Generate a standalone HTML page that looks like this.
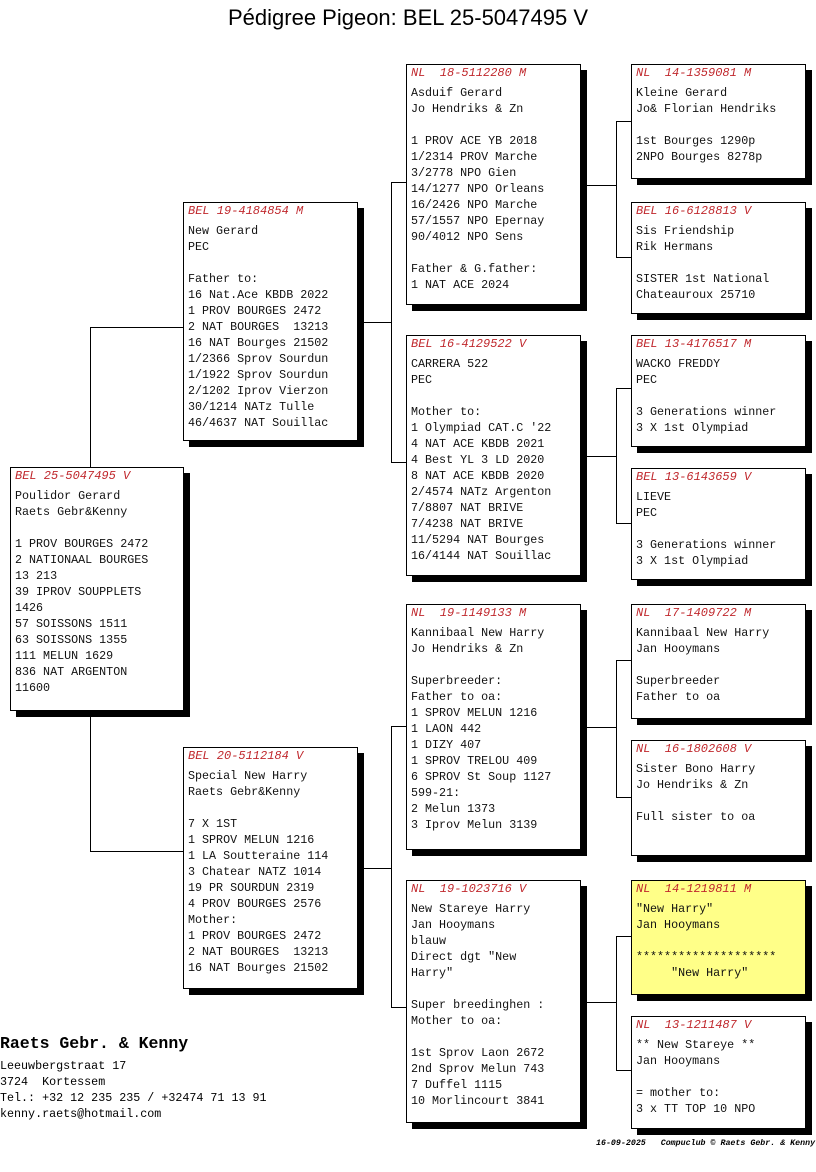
<!DOCTYPE html>
<html><head><meta charset="utf-8"><style>
body{margin:0;width:816px;height:1172px;background:#fff;position:relative;overflow:hidden;font-family:"Liberation Mono",monospace;}
.t{position:absolute;left:0;width:816px;top:5px;text-align:center;font-family:"Liberation Sans",sans-serif;font-size:22px;color:#000;}
.b{position:absolute;background:#fff;border:1px solid #000;box-shadow:6px 6px 0 #000;box-sizing:border-box;padding:0 0 0 4px;font-size:11.7px;line-height:16px;white-space:pre;color:#111;}
.b i{color:#c0282d;font-style:italic;display:block;margin-bottom:4px;font-size:12px;}
.y{background:#ffff88;}
.l{position:absolute;background:#000;}
.h{height:1px}.v{width:1px}
.f{position:absolute;left:0;font-size:11.7px;line-height:16px;white-space:pre;}
</style></head><body>
<div class="t">Pédigree Pigeon: BEL 25-5047495 V</div>

<div class="l v" style="left:90px;top:327px;height:140px"></div>
<div class="l v" style="left:90px;top:710px;height:142px"></div>
<div class="l h" style="left:90px;top:327px;width:93px"></div>
<div class="l h" style="left:90px;top:851px;width:93px"></div>

<div class="l h" style="left:357px;top:322px;width:34px"></div>
<div class="l v" style="left:391px;top:182px;height:280px"></div>
<div class="l h" style="left:391px;top:182px;width:15px"></div>
<div class="l h" style="left:391px;top:462px;width:15px"></div>

<div class="l h" style="left:357px;top:868px;width:34px"></div>
<div class="l v" style="left:391px;top:726px;height:281px"></div>
<div class="l h" style="left:391px;top:726px;width:15px"></div>
<div class="l h" style="left:391px;top:1007px;width:15px"></div>

<div class="l h" style="left:580px;top:185px;width:36px"></div>
<div class="l v" style="left:616px;top:121px;height:136px"></div>
<div class="l h" style="left:616px;top:121px;width:15px"></div>
<div class="l h" style="left:616px;top:257px;width:15px"></div>

<div class="l h" style="left:580px;top:456px;width:36px"></div>
<div class="l v" style="left:616px;top:388px;height:135px"></div>
<div class="l h" style="left:616px;top:388px;width:15px"></div>
<div class="l h" style="left:616px;top:523px;width:15px"></div>

<div class="l h" style="left:580px;top:727px;width:36px"></div>
<div class="l v" style="left:616px;top:660px;height:137px"></div>
<div class="l h" style="left:616px;top:660px;width:15px"></div>
<div class="l h" style="left:616px;top:797px;width:15px"></div>

<div class="l h" style="left:580px;top:1002px;width:36px"></div>
<div class="l v" style="left:616px;top:936px;height:134px"></div>
<div class="l h" style="left:616px;top:936px;width:15px"></div>
<div class="l h" style="left:616px;top:1070px;width:15px"></div>

<div class="b" style="left:10px;top:467px;width:174px;height:244px"><i>BEL 25-5047495 V</i>Poulidor Gerard
Raets Gebr&amp;Kenny

1 PROV BOURGES 2472
2 NATIONAAL BOURGES
13 213
39 IPROV SOUPPLETS
1426
57 SOISSONS 1511
63 SOISSONS 1355
111 MELUN 1629
836 NAT ARGENTON
11600</div>

<div class="b" style="left:183px;top:202px;width:175px;height:239px"><i>BEL 19-4184854 M</i>New Gerard
PEC

Father to:
16 Nat.Ace KBDB 2022
1 PROV BOURGES 2472
2 NAT BOURGES  13213
16 NAT Bourges 21502
1/2366 Sprov Sourdun
1/1922 Sprov Sourdun
2/1202 Iprov Vierzon
30/1214 NATz Tulle
46/4637 NAT Souillac</div>
<div class="b" style="left:183px;top:747px;width:175px;height:242px"><i>BEL 20-5112184 V</i>Special New Harry
Raets Gebr&amp;Kenny

7 X 1ST
1 SPROV MELUN 1216
1 LA Soutteraine 114
3 Chatear NATZ 1014
19 PR SOURDUN 2319
4 PROV BOURGES 2576
Mother:
1 PROV BOURGES 2472
2 NAT BOURGES  13213
16 NAT Bourges 21502</div>

<div class="b" style="left:406px;top:64px;width:175px;height:241px"><i>NL  18-5112280 M</i>Asduif Gerard
Jo Hendriks &amp; Zn

1 PROV ACE YB 2018
1/2314 PROV Marche
3/2778 NPO Gien
14/1277 NPO Orleans
16/2426 NPO Marche
57/1557 NPO Epernay
90/4012 NPO Sens

Father &amp; G.father:
1 NAT ACE 2024</div>
<div class="b" style="left:406px;top:335px;width:175px;height:241px"><i>BEL 16-4129522 V</i>CARRERA 522
PEC

Mother to:
1 Olympiad CAT.C '22
4 NAT ACE KBDB 2021
4 Best YL 3 LD 2020
8 NAT ACE KBDB 2020
2/4574 NATz Argenton
7/8807 NAT BRIVE
7/4238 NAT BRIVE
11/5294 NAT Bourges
16/4144 NAT Souillac</div>
<div class="b" style="left:406px;top:604px;width:175px;height:246px"><i>NL  19-1149133 M</i>Kannibaal New Harry
Jo Hendriks &amp; Zn

Superbreeder:
Father to oa:
1 SPROV MELUN 1216
1 LAON 442
1 DIZY 407
1 SPROV TRELOU 409
6 SPROV St Soup 1127
599-21:
2 Melun 1373
3 Iprov Melun 3139</div>
<div class="b" style="left:406px;top:880px;width:175px;height:243px"><i>NL  19-1023716 V</i>New Stareye Harry
Jan Hooymans
blauw
Direct dgt "New
Harry"

Super breedinghen :
Mother to oa:

1st Sprov Laon 2672
2nd Sprov Melun 743
7 Duffel 1115
10 Morlincourt 3841</div>

<div class="b" style="left:631px;top:64px;width:175px;height:115px"><i>NL  14-1359081 M</i>Kleine Gerard
Jo&amp; Florian Hendriks

1st Bourges 1290p
2NPO Bourges 8278p</div>
<div class="b" style="left:631px;top:202px;width:175px;height:112px"><i>BEL 16-6128813 V</i>Sis Friendship
Rik Hermans

SISTER 1st National
Chateauroux 25710</div>
<div class="b" style="left:631px;top:335px;width:175px;height:112px"><i>BEL 13-4176517 M</i>WACKO FREDDY
PEC

3 Generations winner
3 X 1st Olympiad</div>
<div class="b" style="left:631px;top:468px;width:175px;height:112px"><i>BEL 13-6143659 V</i>LIEVE
PEC

3 Generations winner
3 X 1st Olympiad</div>
<div class="b" style="left:631px;top:604px;width:175px;height:115px"><i>NL  17-1409722 M</i>Kannibaal New Harry
Jan Hooymans

Superbreeder
Father to oa</div>
<div class="b" style="left:631px;top:740px;width:175px;height:116px"><i>NL  16-1802608 V</i>Sister Bono Harry
Jo Hendriks &amp; Zn

Full sister to oa</div>
<div class="b y" style="left:631px;top:880px;width:175px;height:115px"><i>NL  14-1219811 M</i>"New Harry"
Jan Hooymans

********************
     "New Harry"</div>
<div class="b" style="left:631px;top:1016px;width:175px;height:113px"><i>NL  13-1211487 V</i>** New Stareye **
Jan Hooymans

= mother to:
3 x TT TOP 10 NPO</div>

<div class="f" style="top:1035px;font-size:16.5px;font-weight:bold;line-height:18px">Raets Gebr. &amp; Kenny</div>
<div class="f" style="top:1058px">Leeuwbergstraat 17
3724  Kortessem
Tel.: +32 12 235 235 / +32474 71 13 91
kenny.raets@hotmail.com</div>
<div class="f" style="left:596px;top:1139px;font-size:8.3px;font-style:italic;font-weight:bold;line-height:10px">16-09-2025   Compuclub © Raets Gebr. &amp; Kenny</div>
</body></html>
